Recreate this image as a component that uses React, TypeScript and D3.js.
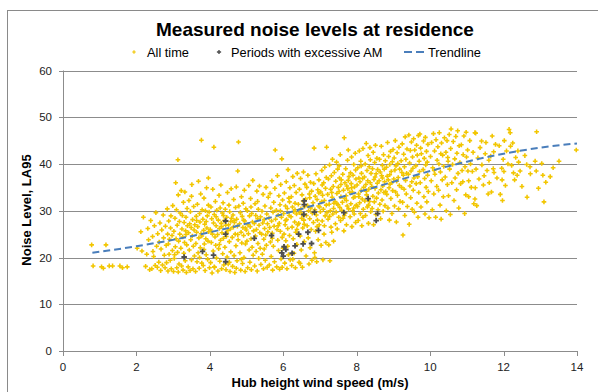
import React from 'react';
import * as d3 from 'd3';

// Wind speed (m/s), LA95 (dB) — "All time"
const allTime: [number, number][] = [
  [0.78,22.7],[1.17,22.7],[0.82,18.2],[1.05,18.0],[1.10,17.7],[1.26,18.2],[1.35,18.2],[1.55,18.2],[1.62,17.8],[1.75,18.0],
  [2.02,22.0],[2.12,25.5],[2.19,28.6],[2.15,21.4],
  [2.28,20.7],[2.31,26.2],[2.36,17.4],[2.33,23.8],[2.39,27.9],[2.25,18.1],
  [2.42,17.6],[2.44,24.5],[2.47,20.2],[2.49,26.8],[2.51,18.3],[2.53,29.6],[2.55,22.4],[2.57,17.9],[2.58,25.1],[2.45,21.3],
  [2.61,19.0],[2.62,23.3],[2.64,27.4],[2.66,17.2],[2.67,21.8],[2.69,25.9],[2.71,18.4],[2.73,29.1],[2.74,24.2],[2.76,20.5],[2.78,17.8],[2.79,26.7],
  [2.81,22.6],[2.82,18.9],[2.84,30.4],[2.85,25.0],[2.86,17.1],[2.88,27.8],[2.89,20.7],[2.9,23.9],[2.92,19.4],[2.93,26.3],[2.94,28.9],[2.95,17.6],[2.97,24.7],[2.98,21.5],[2.99,31.1],[2.87,22.9],
  [3.01,17.0],[3.02,25.6],[3.03,19.8],[3.05,28.4],[3.06,22.3],[3.07,36.0],[3.08,24.0],[3.09,30.2],[3.1,17.8],[3.11,26.9],[3.12,21.1],[3.13,40.9],[3.14,33.4],[3.15,23.5],[3.16,18.6],[3.17,27.7],[3.18,25.0],[3.19,29.5],[3.04,20.6],[3.14,16.9],
  [3.21,22.0],[3.22,34.3],[3.23,18.2],[3.24,26.1],[3.25,29.0],[3.26,24.4],[3.27,17.3],[3.28,31.8],[3.29,20.9],[3.3,27.5],[3.31,23.2],[3.32,34.0],[3.33,19.3],[3.34,25.7],[3.35,28.6],[3.36,16.8],[3.37,22.7],[3.38,30.5],[3.39,26.8],[3.35,24.9],
  [3.41,18.0],[3.42,25.3],[3.43,32.2],[3.44,21.6],[3.45,27.2],[3.46,17.2],[3.47,29.8],[3.48,23.8],[3.49,26.4],[3.5,19.5],[3.51,35.6],[3.52,24.6],[3.53,28.1],[3.54,17.6],[3.55,22.4],[3.56,30.9],[3.57,25.9],[3.58,20.3],[3.59,27.0],[3.5,33.1],
  [3.61,17.0],[3.62,23.0],[3.63,28.8],[3.64,25.4],[3.65,19.1],[3.66,31.4],[3.67,26.6],[3.68,21.0],[3.69,36.3],[3.7,24.2],[3.71,17.7],[3.72,29.4],[3.73,27.6],[3.74,22.1],[3.75,33.6],[3.76,25.1],[3.77,45.1],[3.78,18.8],[3.79,30.2],[3.64,27.9],[3.72,20.0],[3.78,24.6],
  [3.81,28.2],[3.82,18.3],[3.83,25.8],[3.84,32.7],[3.85,22.9],[3.86,27.1],[3.87,17.2],[3.88,30.0],[3.89,24.0],[3.9,20.6],[3.91,34.9],[3.92,26.3],[3.93,28.9],[3.94,19.6],[3.95,23.5],[3.96,37.0],[3.97,25.5],[3.98,29.7],[3.99,17.8],[3.84,21.7],[3.9,27.7],[3.96,31.2],
  [4.01,26.0],[4.02,18.9],[4.03,30.8],[4.04,23.2],[4.05,28.3],[4.06,16.7],[4.07,25.0],[4.08,34.6],[4.09,21.4],[4.1,27.4],[4.11,43.6],[4.12,29.2],[4.13,17.9],[4.14,24.4],[4.15,32.0],[4.16,22.6],[4.17,26.8],[4.18,19.9],[4.19,30.1],[4.04,25.6],[4.12,18.0],[4.17,28.7],
  [4.21,24.9],[4.22,17.1],[4.23,28.0],[4.24,21.9],[4.25,33.3],[4.26,26.2],[4.27,19.2],[4.28,30.6],[4.29,23.7],[4.3,35.5],[4.31,27.3],[4.32,17.6],[4.33,25.3],[4.34,29.5],[4.35,20.8],[4.36,31.7],[4.37,24.1],[4.38,18.4],[4.39,27.9],[4.26,22.8],[4.32,26.6],[4.37,29.0],
  [4.41,22.2],[4.42,30.3],[4.43,26.9],[4.44,17.4],[4.45,24.5],[4.46,28.6],[4.47,20.1],[4.48,33.9],[4.49,25.8],[4.5,18.6],[4.51,27.0],[4.52,31.2],[4.53,23.4],[4.54,29.8],[4.55,17.0],[4.56,26.1],[4.57,21.2],[4.58,34.7],[4.59,28.4],[4.46,25.2],[4.53,19.0],[4.57,27.7],
  [4.61,24.3],[4.62,18.1],[4.63,29.1],[4.64,26.5],[4.65,32.4],[4.66,20.4],[4.67,27.5],[4.68,16.8],[4.69,25.0],[4.7,30.7],[4.71,22.5],[4.72,35.1],[4.73,28.2],[4.74,19.3],[4.75,26.7],[4.76,38.5],[4.77,23.8],[4.78,44.7],[4.79,31.0],[4.66,27.9],[4.72,17.7],[4.76,24.9],
  [4.81,27.2],[4.82,21.0],[4.83,29.6],[4.84,17.3],[4.85,25.4],[4.86,33.0],[4.87,23.1],[4.88,28.8],[4.89,18.7],[4.9,26.4],[4.91,31.6],[4.92,24.7],[4.93,20.0],[4.94,34.4],[4.95,27.8],[4.96,17.0],[4.97,22.9],[4.98,30.4],[4.99,25.9],[4.86,19.6],[4.92,28.0],[4.97,26.3],
  [5.01,23.5],[5.02,30.0],[5.03,17.8],[5.04,27.0],[5.05,25.1],[5.06,35.4],[5.07,21.6],[5.08,28.9],[5.09,19.0],[5.1,26.6],[5.11,32.6],[5.12,24.0],[5.13,17.4],[5.14,29.4],[5.15,22.2],[5.16,27.6],[5.17,36.5],[5.18,20.5],[5.19,25.7],[5.12,30.8],
  [5.21,27.3],[5.22,18.2],[5.23,31.5],[5.24,24.6],[5.25,29.0],[5.26,21.3],[5.27,26.0],[5.28,34.2],[5.29,17.1],[5.3,28.3],[5.31,23.0],[5.32,30.3],[5.33,19.8],[5.34,26.9],[5.35,35.3],[5.36,25.3],[5.37,22.0],[5.38,28.7],[5.39,18.5],[5.3,32.0],
  [5.41,25.0],[5.42,29.9],[5.43,20.7],[5.44,27.4],[5.45,33.5],[5.46,17.6],[5.47,23.9],[5.48,28.1],[5.49,26.2],[5.5,31.0],[5.51,19.4],[5.52,24.8],[5.53,35.0],[5.54,22.6],[5.55,29.3],[5.56,17.9],[5.57,27.2],[5.58,25.5],[5.59,32.9],[5.48,21.8],
  [5.61,28.5],[5.62,18.4],[5.63,26.4],[5.64,33.7],[5.65,23.3],[5.66,30.6],[5.67,20.2],[5.68,27.8],[5.69,36.4],[5.7,25.2],[5.71,17.3],[5.72,29.7],[5.73,22.4],[5.74,31.8],[5.75,26.7],[5.76,19.1],[5.77,34.8],[5.78,43.0],[5.79,28.2],[5.7,24.1],
  [5.81,30.1],[5.82,18.0],[5.83,26.0],[5.84,37.5],[5.85,23.7],[5.86,29.1],[5.87,21.5],[5.88,33.2],[5.89,27.3],[5.9,17.5],[5.91,31.3],[5.92,25.6],[5.93,35.6],[5.94,19.7],[5.95,28.6],[5.96,41.1],[5.97,24.3],[5.98,32.3],[5.99,22.0],[5.86,26.8],[5.92,30.0],[5.97,17.9],
  [6.01,29.4],[6.02,25.0],[6.03,33.8],[6.04,18.8],[6.05,27.0],[6.06,31.0],[6.07,23.6],[6.08,36.2],[6.09,28.1],[6.1,17.6],[6.11,30.5],[6.12,26.2],[6.13,38.8],[6.14,20.6],[6.15,32.7],[6.16,29.0],[6.17,24.7],[6.18,34.9],[6.19,19.5],[6.06,27.9],[6.12,22.4],[6.17,31.9],
  [6.21,28.7],[6.22,33.0],[6.23,18.3],[6.24,26.5],[6.25,30.8],[6.26,37.3],[6.27,24.0],[6.28,29.8],[6.29,20.9],[6.3,35.4],[6.31,27.6],[6.32,31.6],[6.33,17.8],[6.34,25.4],[6.35,33.9],[6.36,29.3],[6.37,22.8],[6.38,38.0],[6.39,27.0],[6.26,19.6],[6.32,30.2],[6.37,26.0],
  [6.41,31.4],[6.42,27.3],[6.43,19.0],[6.44,34.6],[6.45,29.6],[6.46,24.6],[6.47,36.9],[6.48,30.4],[6.49,21.6],[6.5,28.4],[6.51,33.4],[6.52,17.9],[6.53,26.3],[6.54,32.1],[6.55,38.3],[6.56,28.0],[6.57,23.4],[6.58,30.9],[6.59,35.7],[6.46,18.7],[6.52,29.2],[6.57,27.1],
  [6.61,32.5],[6.62,20.3],[6.63,29.0],[6.64,35.0],[6.65,26.8],[6.66,31.1],[6.67,37.6],[6.68,24.2],[6.69,30.0],[6.7,18.6],[6.71,33.6],[6.72,28.3],[6.73,22.1],[6.74,36.1],[6.75,30.6],[6.76,26.0],[6.77,34.2],[6.78,19.4],[6.79,29.5],[6.72,32.8],
  [6.81,31.7],[6.82,27.5],[6.83,35.8],[6.84,43.4],[6.85,21.0],[6.86,30.2],[6.87,33.1],[6.88,25.6],[6.89,37.9],[6.9,29.1],[6.91,19.1],[6.92,32.4],[6.93,28.0],[6.94,34.5],[6.95,23.8],[6.96,31.0],[6.97,36.6],[6.98,27.0],[6.99,30.8],[6.86,20.0],[6.92,26.6],[6.97,33.8],
  [7.01,29.8],[7.02,34.0],[7.03,22.6],[7.04,31.9],[7.05,38.6],[7.06,27.8],[7.07,33.3],[7.08,19.5],[7.09,30.3],[7.1,36.0],[7.11,25.0],[7.12,32.2],[7.13,39.3],[7.14,28.9],[7.15,34.8],[7.16,23.2],[7.17,31.2],[7.18,43.6],[7.19,29.6],[7.06,35.5],[7.12,26.8],[7.17,37.1],
  [7.21,33.5],[7.22,28.2],[7.23,36.8],[7.24,22.7],[7.25,31.4],[7.26,39.8],[7.27,19.3],[7.28,30.0],[7.29,34.6],[7.3,26.5],[7.31,37.5],[7.32,25.4],[7.33,32.9],[7.34,41.0],[7.35,29.3],[7.36,35.2],[7.37,23.5],[7.38,31.6],[7.39,38.2],[7.26,28.8],[7.32,33.9],[7.37,30.5],
  [7.41,32.0],[7.42,27.2],[7.43,36.3],[7.44,29.7],[7.45,40.4],[7.46,33.7],[7.47,26.1],[7.48,38.9],[7.49,31.3],[7.5,35.0],[7.51,28.6],[7.52,34.1],[7.53,37.0],[7.54,30.7],[7.55,42.0],[7.56,27.9],[7.57,33.0],[7.58,36.6],[7.59,30.1],[7.46,31.5],[7.52,39.6],[7.57,35.6],
  [7.61,31.8],[7.62,37.8],[7.63,28.4],[7.64,34.4],[7.65,25.7],[7.66,45.6],[7.67,32.6],[7.68,36.0],[7.69,29.5],[7.7,39.0],[7.71,33.2],[7.72,27.0],[7.73,35.3],[7.74,31.0],[7.75,40.8],[7.76,34.7],[7.77,43.0],[7.78,30.4],[7.79,37.3],[7.66,29.0],[7.72,32.2],[7.77,36.5],
  [7.81,33.9],[7.82,28.7],[7.83,38.1],[7.84,31.5],[7.85,35.8],[7.86,41.5],[7.87,26.6],[7.88,34.0],[7.89,30.0],[7.9,37.6],[7.91,32.8],[7.92,39.9],[7.93,29.3],[7.94,35.1],[7.95,33.0],[7.96,42.3],[7.97,27.5],[7.98,36.8],[7.99,31.2],[7.86,34.9],[7.92,30.6],[7.97,38.7],
  [8.01,35.5],[8.02,30.9],[8.03,39.2],[8.04,27.9],[8.05,33.6],[8.06,37.0],[8.07,42.8],[8.08,31.7],[8.09,36.2],[8.1,29.4],[8.11,40.6],[8.12,34.3],[8.13,38.0],[8.14,26.8],[8.15,32.5],[8.16,36.9],[8.17,43.3],[8.18,30.3],[8.19,35.0],[8.06,33.0],[8.12,39.6],[8.17,28.6],
  [8.21,37.2],[8.22,32.1],[8.23,40.0],[8.24,29.0],[8.25,35.6],[8.26,44.4],[8.27,33.4],[8.28,38.6],[8.29,30.8],[8.3,36.4],[8.31,41.8],[8.32,27.3],[8.33,34.6],[8.34,39.4],[8.35,32.0],[8.36,43.5],[8.37,36.0],[8.38,29.8],[8.39,38.0],[8.26,34.2],[8.32,31.2],[8.37,40.9],
  [8.41,35.2],[8.42,30.5],[8.43,39.0],[8.44,33.1],[8.45,42.5],[8.46,27.0],[8.47,36.7],[8.48,31.9],[8.49,40.3],[8.5,34.8],[8.51,44.0],[8.52,29.2],[8.53,37.9],[8.54,32.7],[8.55,41.2],[8.56,35.9],[8.57,38.8],[8.58,30.2],[8.59,33.8],[8.5,37.2],
  [8.61,36.4],[8.62,41.0],[8.63,31.4],[8.64,38.3],[8.65,28.3],[8.66,34.5],[8.67,43.8],[8.68,37.5],[8.69,32.3],[8.7,39.7],[8.71,35.3],[8.72,29.9],[8.73,42.0],[8.74,33.9],[8.75,38.9],[8.76,36.2],[8.77,31.1],[8.78,40.7],[8.79,34.1],[8.7,37.0],
  [8.81,39.3],[8.82,33.5],[8.83,37.4],[8.84,44.6],[8.85,30.6],[8.86,36.6],[8.87,41.6],[8.88,34.9],[8.89,28.0],[8.9,39.9],[8.91,35.7],[8.92,42.7],[8.93,32.6],[8.94,38.4],[8.95,36.0],[8.96,29.4],[8.97,40.5],[8.98,34.3],[8.99,43.1],[8.9,37.7],
  [9.01,36.8],[9.02,41.3],[9.03,31.0],[9.04,38.7],[9.05,45.0],[9.06,34.0],[9.07,39.6],[9.08,27.6],[9.09,36.3],[9.1,42.4],[9.11,33.3],[9.12,40.1],[9.13,37.1],[9.14,30.4],[9.15,43.6],[9.16,35.4],[9.17,38.9],[9.18,32.0],
  [9.21,40.7],[9.22,35.0],[9.23,38.2],[9.24,44.3],[9.25,31.8],[9.26,24.8],[9.27,37.6],[9.28,42.1],[9.29,34.6],[9.3,39.4],[9.31,29.0],[9.32,45.8],[9.33,36.5],[9.34,41.0],[9.35,33.6],[9.36,38.0],[9.37,43.2],[9.38,30.9],
  [9.41,37.8],[9.42,46.2],[9.43,27.1],[9.44,40.2],[9.45,35.3],[9.46,42.9],[9.47,32.8],[9.48,38.5],[9.49,44.7],[9.5,36.2],[9.51,30.3],[9.52,41.5],[9.53,39.1],[9.54,34.4],[9.55,45.4],[9.56,37.0],[9.57,29.7],[9.58,43.0],
  [9.61,39.6],[9.62,35.8],[9.63,44.0],[9.64,31.6],[9.65,41.9],[9.66,37.3],[9.67,28.6],[9.68,46.1],[9.69,33.9],[9.7,40.6],[9.71,38.4],[9.72,46.4],[9.73,36.0],[9.74,43.4],[9.75,30.8],[9.76,42.2],
  [9.81,38.8],[9.82,44.9],[9.83,33.0],[9.84,41.2],[9.85,36.9],[9.86,29.3],[9.87,45.7],[9.88,39.8],[9.89,35.0],[9.9,42.7],[9.91,31.9],[9.92,40.4],[9.93,37.6],[9.94,44.2],[9.95,34.1],[9.97,28.5],
  [10.01,41.6],[10.03,36.4],[10.04,44.6],[10.06,30.2],[10.07,39.2],[10.09,46.5],[10.1,33.6],[10.12,42.8],[10.13,37.8],[10.15,28.6],[10.16,45.2],[10.18,35.2],[10.19,40.8],[10.11,38.6],
  [10.21,43.7],[10.23,34.4],[10.24,40.0],[10.25,46.7],[10.27,31.2],[10.28,38.3],[10.3,28.2],[10.31,44.5],[10.33,36.6],[10.34,41.9],[10.36,33.0],[10.37,39.5],[10.39,45.6],[10.29,42.2],
  [10.41,37.2],[10.43,42.5],[10.44,30.0],[10.46,45.0],[10.47,35.6],[10.49,40.6],[10.5,33.2],[10.52,46.3],[10.53,38.9],[10.55,29.2],[10.56,43.3],[10.57,47.5],[10.59,36.0],[10.48,41.4],
  [10.61,39.9],[10.63,44.8],[10.65,32.2],[10.67,41.1],[10.68,37.0],[10.7,45.9],[10.72,34.5],[10.73,42.3],[10.75,47.1],[10.76,38.0],[10.78,30.6],[10.79,43.9],
  [10.81,40.3],[10.83,35.8],[10.85,44.1],[10.87,38.6],[10.89,36.2],[10.9,42.0],[10.92,46.0],[10.94,29.4],[10.95,39.4],[10.97,33.4],[10.98,46.8],[10.99,41.5],
  [11.02,43.0],[11.03,38.5],[11.05,36.4],[11.05,33.0],[11.08,45.0],[11.1,40.0],[11.12,35.0],[11.15,38.4],[11.17,42.5],[11.19,31.5],
  [11.22,46.7],[11.22,32.5],[11.24,46.6],[11.25,38.9],[11.23,34.9],[11.27,31.1],[11.3,41.3],[11.33,36.8],[11.36,43.5],[11.4,44.9],
  [11.41,39.8],[11.45,35.5],[11.47,37.5],[11.5,42.2],[11.52,44.6],[11.55,38.6],[11.58,33.6],[11.6,40.8],
  [11.61,36.0],[11.65,41.7],[11.67,34.0],[11.69,46.0],[11.72,39.0],[11.73,42.6],[11.74,38.2],[11.78,44.2],
  [11.82,37.0],[11.88,43.9],[11.91,33.5],[11.95,39.1],[11.96,36.6],[11.97,32.2],[11.99,41.0],
  [12.01,38.4],[12.02,45.0],[12.08,42.8],[12.12,40.0],[12.15,47.4],[12.18,46.7],[12.05,35.4],[12.19,43.8],
  [12.22,39.7],[12.27,38.1],[12.3,36.6],[12.33,41.4],[12.37,37.6],[12.39,42.8],[12.25,44.5],
  [12.41,40.4],[12.45,38.5],[12.5,35.2],[12.58,41.8],
  [12.63,39.9],[12.64,32.9],[12.72,39.4],[12.73,37.9],
  [12.86,40.6],[12.89,38.5],[12.9,46.9],[12.95,34.8],
  [13.04,40.1],[13.07,37.6],[13.1,31.9],[13.15,36.1],
  [13.27,37.3],[13.35,39.2],[13.51,40.6],
  [13.98,43.0],
];

// "Periods with excessive AM"
const excessiveAM: [number, number][] = [
  [3.30,20.1],[3.80,21.3],[4.10,20.5],[4.43,27.8],[4.43,25.0],[4.43,19.1],[5.21,24.1],[5.68,24.7],
  [5.96,21.0],[6.02,22.3],[6.07,21.7],[6.00,20.3],[6.24,20.9],[6.32,22.5],[6.42,25.0],[6.54,22.9],
  [6.67,25.4],[6.77,23.0],[6.96,25.8],[6.57,32.1],[6.57,31.3],[6.56,29.2],[6.85,29.7],[7.65,29.6],
  [8.31,32.6],[8.57,29.4],[8.53,27.9],
];

// Trendline
const trendX = [0.8, 2, 4, 6, 8, 9, 10, 11, 12, 13, 14];
const trendY = [21.0, 22.4, 25.4, 29.3, 33.9, 36.2, 38.5, 40.5, 42.2, 43.5, 44.4];

const xTicks = [0, 2, 4, 6, 8, 10, 12, 14];
const yTicks = [0, 10, 20, 30, 40, 50, 60];

const chartTitle = 'Measured noise levels at residence';
const legendLabels = ['All time', 'Periods with excessive AM', 'Trendline'];
const xTitle = 'Hub height wind speed (m/s)';
const yTitle = 'Noise Level, LA95';

const FONT = '"Liberation Sans", Arial, Helvetica, sans-serif';
const YELLOW = '#F2C600';
const DARK = '#4D4D4D';
const BLUE = '#4A7EBB';
const GRID = '#8C8C8C';

export default function App() {
  const W = 598, H = 392;
  const x = d3.scaleLinear().domain([0, 14]).range([63, 577]);
  const y = d3.scaleLinear().domain([0, 60]).range([351, 70.5]);
  const yellowSym = d3.symbol().type(d3.symbolCross).size(12)() as string;
  const darkSym = d3.symbol().type(d3.symbolCross).size(17)() as string;
  const legYellow = d3.symbol().type(d3.symbolCross).size(7)() as string;
  const legDark = d3.symbol().type(d3.symbolCross).size(10)() as string;
  const trendPts = trendX.map((v, i) => [v, trendY[i]] as [number, number]);
  const trendPath = d3.line<[number, number]>()
    .x(d => x(d[0])).y(d => y(d[1]))
    .curve(d3.curveMonotoneX)(trendPts) as string;

  return (
    <svg width={W} height={H} style={{ position: 'absolute', left: 0, top: 0, background: '#fff' }}
      fontFamily={FONT}>
      <rect x={0} y={0} width={W} height={H} fill="#fff" />
      <rect x={7.5} y={10.5} width={620} height={420} fill="#fff" stroke="#8a8a8a" strokeWidth={1} />

      {/* gridlines */}
      {yTicks.map(t => (
        <line key={'g' + t} x1={x(0) - 4} x2={x(14)} y1={Math.round(y(t)) + 0.5} y2={Math.round(y(t)) + 0.5}
          stroke={GRID} strokeWidth={1} />
      ))}
      {/* y axis */}
      <line x1={x(0) + 0.5} x2={x(0) + 0.5} y1={y(60)} y2={y(0)} stroke={GRID} strokeWidth={1} />
      {/* x ticks */}
      {xTicks.map(t => (
        <line key={'xt' + t} x1={Math.round(x(t)) + 0.5} x2={Math.round(x(t)) + 0.5}
          y1={y(0)} y2={y(0) + 5} stroke={GRID} strokeWidth={1} />
      ))}
      {yTicks.map(t => (
        <text key={'yl' + t} x={52} y={y(t) + 4} textAnchor="end" fontSize={11.5} fill="#222">{t}</text>
      ))}
      {xTicks.map(t => (
        <text key={'xl' + t} x={x(t)} y={371} textAnchor="middle" fontSize={11.5} fill="#222">{t}</text>
      ))}

      {/* points */}
      {allTime.map((d, i) => (
        <path key={'a' + i} d={yellowSym} transform={`translate(${x(d[0])},${y(d[1])})`} fill={YELLOW} />
      ))}
      {excessiveAM.map((d, i) => (
        <path key={'e' + i} d={darkSym} transform={`translate(${x(d[0])},${y(d[1])})`} fill={DARK} />
      ))}
      <path d={trendPath} fill="none" stroke={BLUE} strokeWidth={2} strokeDasharray="7,4" />

      {/* title */}
      <text x={315} y={36} textAnchor="middle" fontSize={19} fontWeight="bold" fill="#000">{chartTitle}</text>

      {/* legend */}
      <path d={legYellow} transform="translate(134,52)" fill={YELLOW} />
      <text x={147} y={56.5} fontSize={12.8} fill="#000">{legendLabels[0]}</text>
      <path d={legDark} transform="translate(219,52)" fill={DARK} />
      <text x={231} y={56.5} fontSize={12.8} fill="#000">{legendLabels[1]}</text>
      <line x1={404} x2={426} y1={52} y2={52} stroke={BLUE} strokeWidth={2} strokeDasharray="8,4" />
      <text x={428} y={56.5} fontSize={12.8} fill="#000">{legendLabels[2]}</text>

      {/* axis titles */}
      <text x={320} y={387} textAnchor="middle" fontSize={13} fontWeight="bold" fill="#000">{xTitle}</text>
      <text transform="translate(31,210) rotate(-90)" textAnchor="middle" fontSize={13} fontWeight="bold" fill="#000">{yTitle}</text>
    </svg>
  );
}
